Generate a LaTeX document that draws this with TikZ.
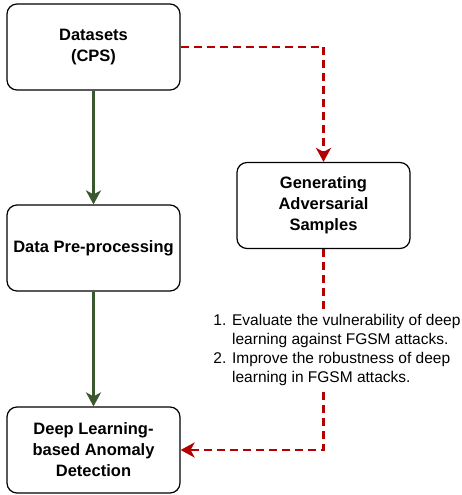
\documentclass[tikz,border=0pt]{standalone}
\usepackage{fontspec}
\setmainfont{Liberation Sans}
\usetikzlibrary{arrows.meta,positioning}
\definecolor{flowgreen}{RGB}{58,88,46}
\definecolor{advred}{RGB}{180,0,0}

\begin{document}
\begin{tikzpicture}[x=1pt,y=-1pt]
    \tikzset{box/.style={draw,line width=1.2pt,rounded corners=10pt,minimum width=173pt,minimum height=86pt,align=center,font=\bfseries\fontsize{16.5}{21}\selectfont},
        mainflow/.style={line width=2.5pt,flowgreen,-{Stealth[length=14pt,width=15pt,inset=4pt]}},
        advflow/.style={line width=2.5pt,advred,dash pattern=on 8pt off 5pt,-{Stealth[length=14pt,width=15pt,inset=4pt]}},
        note/.style={fill=white,align=left,inner sep=1pt,font=\fontsize{15.5}{19.2}\selectfont}};
    \useasboundingbox (0,0) rectangle (461,495);
    \node[box] (data) at (93.5,47) {Datasets\\(CPS)};
    \node[box] (pre) at (93.5,248) {Data Pre-processing};
    \node[box] (deep) at (93.5,450) {Deep Learning-\\based Anomaly\\Detection};
    \node[box] (gen) at (323.5,205.5) {Generating\\Adversarial\\Samples};
    \draw[mainflow] (data) -- (pre);
    \draw[mainflow] (pre) -- (deep);
    \draw[advflow] (data) -- (data -| gen) -- (gen);
    \draw[advflow] (gen) -- (gen |- deep) -- (deep);
    \node[note] (aims) at (337,350) {1. Evaluate the vulnerability of deep\\
        \hphantom{1. }learning against FGSM attacks.\\
        2. Improve the robustness of deep\\
        \hphantom{2. }learning in FGSM attacks.};
\end{tikzpicture}
\end{document}
